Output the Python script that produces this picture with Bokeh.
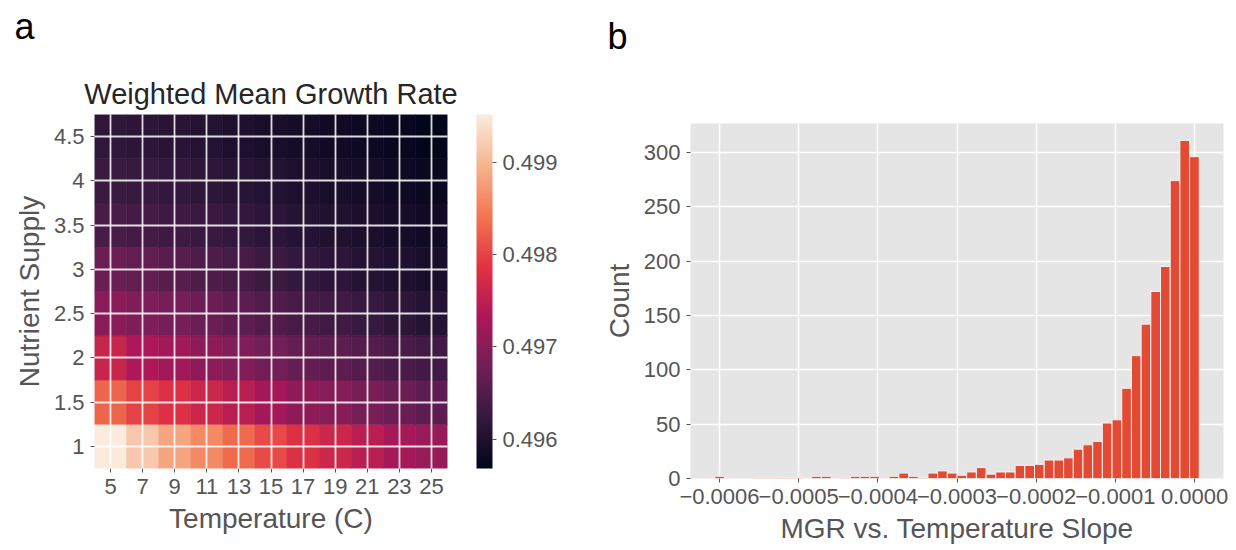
import numpy as np
from bokeh.plotting import figure
from bokeh.models import (LinearColorMapper, ColorBar, FixedTicker, CustomJSTickFormatter,
                          Range1d, Title, ColumnDataSource)
from bokeh.transform import transform
from bokeh.layouts import row
from bokeh.embed import file_html
from bokeh.resources import INLINE

# ---------------- data ----------------
temperatures = [5, 7, 9, 11, 13, 15, 17, 19, 21, 23, 25]
nutrients = [1.0, 1.5, 2.0, 2.5, 3.0, 3.5, 4.0, 4.5]
# rows follow nutrients, columns follow temperatures
growth_n10 = [0.49952, 0.499171, 0.498839, 0.49860, 0.498325, 0.498054, 0.497822, 0.497642, 0.497463, 0.497276, 0.497137]
growth_n15 = [0.498275, 0.498005, 0.497822, 0.497642, 0.497463, 0.497254, 0.497056, 0.496975, 0.49684, 0.496722, 0.496619]
growth_n20 = [0.497611, 0.497357, 0.497218, 0.497056, 0.496939, 0.496804, 0.496685, 0.496601, 0.496508, 0.496424, 0.496349]
growth_n25 = [0.497011, 0.496921, 0.496831, 0.496722, 0.496619, 0.496498, 0.496396, 0.496331, 0.496247, 0.496152, 0.496064]
growth_n30 = [0.496722, 0.496648, 0.496554, 0.496461, 0.496387, 0.496294, 0.496218, 0.49613, 0.496053, 0.495987, 0.495922]
growth_n35 = [0.496424, 0.496377, 0.496312, 0.496266, 0.496207, 0.496141, 0.496064, 0.496009, 0.495955, 0.495889, 0.495834]
growth_n40 = [0.496294, 0.496257, 0.496207, 0.496152, 0.496097, 0.496031, 0.495976, 0.495932, 0.495877, 0.495823, 0.495768]
growth_n45 = [0.496164, 0.496141, 0.496108, 0.496042, 0.495976, 0.495932, 0.495889, 0.495845, 0.495801, 0.495735, 0.49568]
growth_rows = [growth_n10, growth_n15, growth_n20, growth_n25, growth_n30, growth_n35, growth_n40, growth_n45]
colorbar_ticks = [0.496, 0.497, 0.498, 0.499]

slope_min = -0.000606
slope_max = 0.000006
slope_counts = [2, 0, 0, 0, 1, 1, 1, 1, 1, 0,
                2, 2, 0, 1, 2, 2, 2, 0, 2, 5,
                2, 1, 5, 7, 5, 3, 6, 10, 4, 6,
                6, 12, 12, 13, 17, 17, 19, 27, 31, 34,
                51, 54, 83, 113, 142, 172, 195, 274, 311, 296]
slope_ticks = [-0.0006, -0.0005, -0.0004, -0.0003, -0.0002, -0.0001, 0.0]
count_ticks = [0, 50, 100, 150, 200, 250, 300]

# ---------------- style ----------------
FONT = "Liberation Sans"
GREY = "#555555"
TICK_SIZE = "22px"
LABEL_SIZE = "28px"

rocket_stops = ["#03051A", "#35193E", "#701F57", "#AD1759", "#E13342", "#F37651", "#F6B48F", "#FAEBDD"]


def make_palette(stops, n=256):
    rgb = np.array([[int(s[i:i + 2], 16) for i in (1, 3, 5)] for s in stops], dtype=float)
    pos = np.linspace(0, 1, len(stops))
    out = []
    for t in np.linspace(0, 1, n):
        c = [np.interp(t, pos, rgb[:, k]) for k in range(3)]
        out.append("#%02x%02x%02x" % tuple(int(round(v)) for v in c))
    return out


def spacer_title(gap):
    # a tiny white title used only to push the next title upward
    return Title(text=".", text_font_size="2px", standoff=gap, text_color="white")


def panel_letter(letter, offset):
    return Title(text=letter, align="left", offset=offset, standoff=0,
                 text_font=FONT, text_font_size="36px", text_font_style="normal",
                 text_color="black")


rocket = make_palette(rocket_stops)

# ---------------- heatmap ----------------
xs, ys, vals = [], [], []
for n, rvals in zip(nutrients, growth_rows):
    for t, v in zip(temperatures, rvals):
        xs.append(t)
        ys.append(n)
        vals.append(v)
src = ColumnDataSource(dict(x=xs, y=ys, v=vals))
allv = np.array(vals)
mapper = LinearColorMapper(palette=rocket, low=float(allv.min()), high=float(allv.max()))

dx = temperatures[1] - temperatures[0]
dy = nutrients[1] - nutrients[0]
hx0, hx1 = temperatures[0] - dx / 2, temperatures[-1] + dx / 2
hy0, hy1 = nutrients[0] - dy / 2, nutrients[-1] + dy / 2

W1, H1 = 600, 550
L1, R1, T1, B1 = 94, 153, 114, 82
p1 = figure(width=W1, height=H1, output_backend="svg", toolbar_location=None,
            x_range=Range1d(hx0, hx1), y_range=Range1d(hy0, hy1),
            min_border_left=L1, min_border_right=R1, min_border_top=T1, min_border_bottom=B1)
p1.frame_align = False
p1.rect(x="x", y="y", width=dx, height=dy, source=src,
        fill_color=transform("v", mapper), line_color=transform("v", mapper), line_width=0.6)

p1.add_layout(Title(text="Weighted Mean Growth Rate", align="center", standoff=10,
                    text_font=FONT, text_font_size="29px", text_font_style="normal",
                    text_color="#262626"), "above")
p1.add_layout(spacer_title(21), "above")
p1.add_layout(panel_letter("a", 14 - L1), "above")

p1.xaxis.ticker = FixedTicker(ticks=temperatures)
p1.yaxis.ticker = FixedTicker(ticks=nutrients)
p1.yaxis.formatter = CustomJSTickFormatter(code="return String(tick);")
p1.xaxis.axis_label = "Temperature (C)"
p1.yaxis.axis_label = "Nutrient Supply"
for ax in (p1.xaxis, p1.yaxis):
    ax.axis_line_color = None
    ax.major_tick_line_color = GREY
    ax.major_tick_out = 4
    ax.major_tick_in = 0
    ax.minor_tick_line_color = None
    ax.major_label_text_font = FONT
    ax.major_label_text_font_size = TICK_SIZE
    ax.major_label_text_color = GREY
    ax.axis_label_text_font = FONT
    ax.axis_label_text_font_size = LABEL_SIZE
    ax.axis_label_text_font_style = "normal"
    ax.axis_label_text_color = GREY
    ax.major_label_standoff = 6
    ax.axis_label_standoff = 6
p1.grid.grid_line_color = "white"
p1.grid.grid_line_alpha = 0.85
p1.grid.grid_line_width = 1.8
p1.grid.level = "overlay"
p1.outline_line_color = None
p1.background_fill_color = "white"

frame_w1 = W1 - L1 - R1
frame_h1 = H1 - T1 - B1
cb = ColorBar(color_mapper=mapper, width=16, height=frame_h1, padding=0, margin=0,
              location=(frame_w1 + 29, 0),
              ticker=FixedTicker(ticks=colorbar_ticks),
              formatter=CustomJSTickFormatter(code="return tick.toFixed(3);"),
              major_label_text_font=FONT, major_label_text_font_size=TICK_SIZE,
              major_label_text_color=GREY, major_tick_in=0, major_tick_out=4,
              major_tick_line_color=GREY, bar_line_color=None, minor_tick_line_color=None,
              background_fill_color=None, border_line_color=None, label_standoff=6)
p1.add_layout(cb, "center")

# ---------------- histogram ----------------
nbins = len(slope_counts)
edges = np.linspace(slope_min, slope_max, nbins + 1)
span = slope_max - slope_min
sx0, sx1 = slope_min - 0.05 * span, slope_max + 0.05 * span
cy0, cy1 = 0, max(slope_counts) * 1.05
hsrc = ColumnDataSource(dict(left=edges[:-1], right=edges[1:], top=slope_counts,
                             bottom=[0] * nbins))

W2, H2 = 636, 550
L2, R2, T2, B2 = 77, 13, 123, 72
p2 = figure(width=W2, height=H2, output_backend="svg", toolbar_location=None,
            x_range=Range1d(sx0, sx1), y_range=Range1d(cy0, cy1),
            min_border_left=L2, min_border_right=R2, min_border_top=T2, min_border_bottom=B2)
p2.frame_align = False
p2.add_layout(spacer_title(64), "above")
p2.add_layout(panel_letter("b", -83), "above")

p2.quad(left="left", right="right", top="top", bottom="bottom", source=hsrc,
        fill_color="#E24A33", line_color="#F2F2F2", line_width=1)
p2.background_fill_color = "#E5E5E5"
p2.outline_line_color = None
p2.grid.grid_line_color = "white"
p2.grid.grid_line_width = 1.5
p2.xaxis.ticker = FixedTicker(ticks=slope_ticks)
p2.yaxis.ticker = FixedTicker(ticks=count_ticks)
p2.xaxis.formatter = CustomJSTickFormatter(
    code="var s = Math.abs(tick).toFixed(4); return (tick < -1e-12 ? '\u2212' : '') + s;")
p2.xaxis.axis_label = "MGR vs. Temperature Slope"
p2.yaxis.axis_label = "Count"
for ax in (p2.xaxis, p2.yaxis):
    ax.axis_line_color = None
    ax.major_tick_line_color = GREY
    ax.major_tick_out = 4
    ax.major_tick_in = 0
    ax.minor_tick_line_color = None
    ax.major_label_text_font = FONT
    ax.major_label_text_font_size = TICK_SIZE
    ax.major_label_text_color = GREY
    ax.axis_label_text_font = FONT
    ax.axis_label_text_font_size = LABEL_SIZE
    ax.axis_label_text_font_style = "normal"
    ax.axis_label_text_color = GREY
    ax.major_label_standoff = 6
    ax.axis_label_standoff = 6

layout = row(p1, p2)
open("out.html", "w").write(file_html(layout, INLINE))
